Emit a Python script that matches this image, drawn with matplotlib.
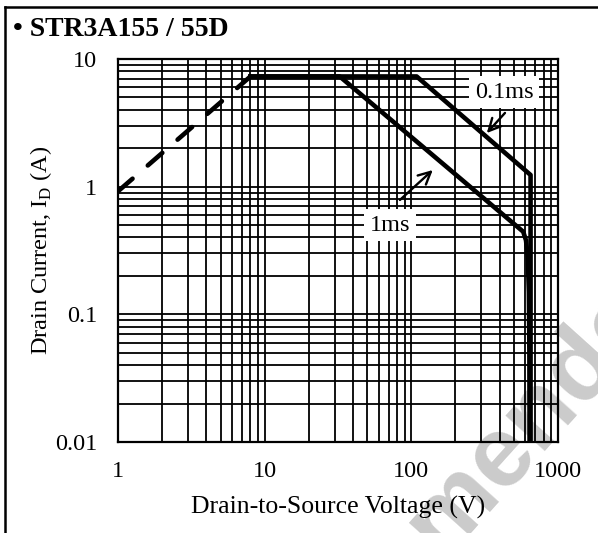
import matplotlib
matplotlib.use("Agg")
import matplotlib.pyplot as plt
from matplotlib.lines import Line2D

plt.rcParams['font.family'] = ['Liberation Serif', 'DejaVu Serif']
plt.rcParams['mathtext.fontset'] = 'custom'
plt.rcParams['mathtext.rm'] = 'Liberation Serif'

# ---- data (V, A) ----
rds_v = [1.0, 8.0]
rds_i = [0.92, 7.3]

ms1_v = [8.0, 32.5, 579, 605, 622, 633, 638, 640]
ms1_i = [7.3, 7.3, 0.444, 0.38, 0.28, 0.15, 0.05, 0.01]

ms01_v = [8.0, 108.7, 650, 650]
ms01_i = [7.3, 7.3, 1.235, 0.01]

xticks = [1, 10, 100, 1000]
xticklabels = ['1', '10', '100', '1000']
yticks = [0.01, 0.1, 1, 10]
yticklabels = ['0.01', '0.1', '1', '10']

title = '\u2022 STR3A155 / 55D'
xlabel = 'Drain-to-Source Voltage (V)'
ylabel = r'Drain Current, I$_\mathrm{D}$ (A)'

# annotation positions (data coords)
lab01_xy = (428, 5.5)
arr01_tail = (435, 3.78)
arr01_tip = (327, 2.63)
lab1_xy = (71.5, 0.50)
arr1_tail = (83.6, 0.787)
arr1_tip = (140, 1.35)

fig = plt.figure(figsize=(5.98, 5.33), dpi=100)
ax = fig.add_axes([118/598, 91/533, 440/598, 383/533])
ax.patch.set_visible(False)
ax.set_xscale('log')
ax.set_yscale('log')
ax.set_xlim(1, 1000)
ax.set_ylim(0.01, 10)

ax.grid(True, which='both', color='black', linewidth=1.3)
ax.set_axisbelow(True)
for s in ax.spines.values():
    s.set_linewidth(1.6)
    s.set_color('black')

ax.set_xticks(xticks)
ax.set_xticklabels(xticklabels)
ax.set_yticks(yticks)
ax.set_yticklabels(yticklabels)
ax.tick_params(which='both', length=0, labelsize=17.5)
ax.tick_params(axis='x', pad=14)
ax.tick_params(axis='y', pad=15)

ax.plot(rds_v, rds_i, color='black', lw=3.3, dashes=(4.2, 4.4), dash_capstyle='round', zorder=3)
ax.plot(ms1_v, ms1_i, color='black', lw=3.3, zorder=3)
ax.plot(ms01_v, ms01_i, color='black', lw=3.3, zorder=3)

ax.set_xlabel(xlabel, fontsize=18.5)
ax.xaxis.set_label_coords(0.5, -0.1697)
ax.xaxis.label.set_verticalalignment('center')
ax.set_ylabel(ylabel, fontsize=17.5)
ax.yaxis.set_label_coords(-0.175, 0.5)
ax.yaxis.label.set_verticalalignment('center')

bbox = dict(boxstyle='square,pad=0.22', fc='white', ec='none')
ax.text(*lab01_xy, '0.1ms', fontsize=17.5, ha='center', va='center', bbox=bbox, zorder=5)
ax.text(*lab1_xy, '1ms', fontsize=17.5, ha='center', va='center', bbox=bbox, zorder=5)
arrowprops = dict(arrowstyle='->', lw=1.7, color='black', shrinkA=0, shrinkB=0, mutation_scale=22)
ax.annotate('', xy=arr01_tip, xytext=arr01_tail, arrowprops=arrowprops, zorder=5)
ax.annotate('', xy=arr1_tip, xytext=arr1_tail, arrowprops=arrowprops, zorder=5)

fig.text(13/598, 1 - 29/533, title, fontsize=20, fontweight='bold', ha='left', va='center')

# frame lines (left and top)
fig.add_artist(Line2D([4.5/598, 4.5/598], [0, 1 - 6.7/533], transform=fig.transFigure, color='black', lw=1.8))
fig.add_artist(Line2D([4.5/598, 1], [1 - 6.7/533, 1 - 6.7/533], transform=fig.transFigure, color='black', lw=1.8))

# watermark (behind the grid)
fig.text(440/598, 1 - 522/533, 'Recommended', fontsize=72, fontweight='bold', color='#cbcbcb',
         rotation=48, ha='center', va='center', zorder=-1,
         family=['Liberation Sans', 'DejaVu Sans'])

fig.savefig('out.png', dpi=100)
